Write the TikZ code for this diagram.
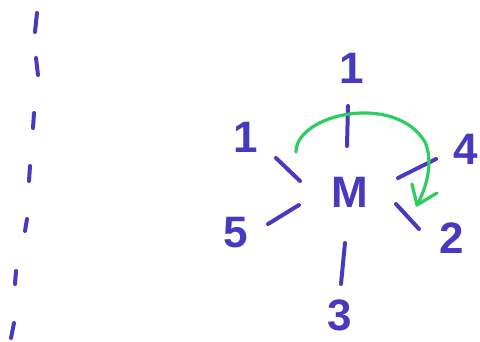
\documentclass[tikz,border=0pt]{standalone}
\usepackage{fontspec}
\setmainfont{Liberation Sans}
\definecolor{pen}{RGB}{72,58,190}
\definecolor{mark}{RGB}{45,205,95}
\begin{document}
\begin{tikzpicture}[x=1pt,y=-1pt,
  stroke/.style={draw=pen,line width=4pt,line cap=round},
  lbl/.style={text=pen,font=\fontsize{44}{44}\selectfont\bfseries,inner sep=0pt},
  arc/.style={draw=mark,line width=3.2pt,line cap=round,line join=round}]
\useasboundingbox (0,0) rectangle (480,341);
% left dashed line
\draw[stroke] (37,13) -- (35,32);
\draw[stroke] (36,58) -- (38,75);
\draw[stroke] (34,113) -- (33,128);
\draw[stroke] (30,166) -- (29,181);
\draw[stroke] (27,219) -- (25,231);
\draw[stroke] (16,271) -- (15,284);
\draw[stroke] (14,323) -- (11,338);
% centre
\node[lbl] (M) at (350,192) {M};
% ticks
\draw[stroke] (348,106) -- (347,146);
\draw[stroke] (276,158) -- (300,181);
\draw[stroke] (398,178) -- (436,159);
\draw[stroke] (396,204) -- (419,229);
\draw[stroke] (268,224) -- (299,205);
\draw[stroke] (345,243) -- (341,284);
% labels
\node[lbl] (l1t) at (352,68) {1};
\node[lbl] (l1l) at (246,137) {1};
\node[lbl] (l4) at (466,149) {4};
\node[lbl] (l2) at (452,238) {2};
\node[lbl] (l5) at (236,233) {5};
\node[lbl] (l3) at (340,315) {3};
% green arrow
\coordinate (gs) at (296,152);
\coordinate (gm) at (425,142);
\coordinate (ge) at (417,205);
\draw[arc] (gs) .. controls (296,114) and (395,92) .. (gm) .. controls (433,160) and (428,185) .. (ge);
\draw[arc] (412,184) -- (ge) -- (437,193);
\end{tikzpicture}
\end{document}
